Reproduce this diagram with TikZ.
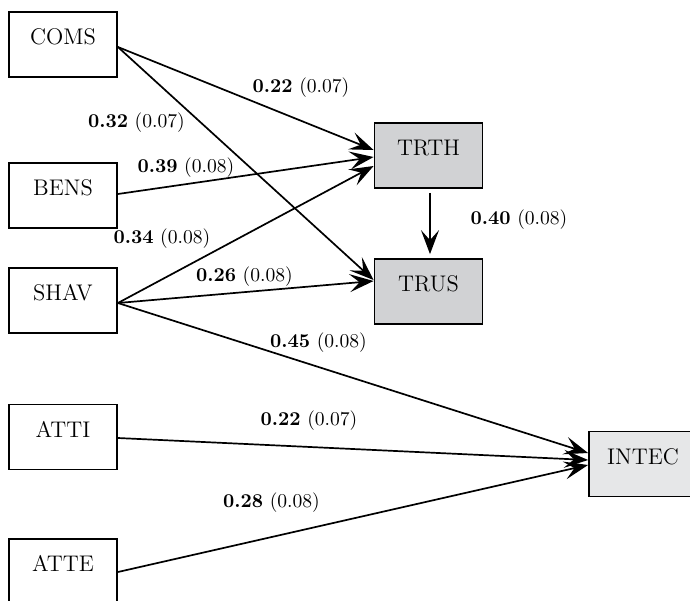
\documentclass[tikz,border=0pt]{standalone}
\usepackage{fontspec}
\usepackage{tikz}
\usetikzlibrary{arrows.meta,calc}
\definecolor{endogray}{RGB}{209,210,212}
\definecolor{outgray}{RGB}{230,231,232}
\newcommand{\est}[2]{\textbf{#1} (#2)}

\begin{document}
\begin{tikzpicture}[x=0.5pt,y=-0.5pt,
    var/.style={draw,line width=0.9pt,minimum width=54pt,minimum height=32.5pt,
      inner sep=0pt,text height=8pt,text depth=8pt,font=\fontsize{11.3}{13}\selectfont},
    path/.style={line width=0.85pt,-{Stealth[length=12pt,width=9pt,inset=5pt]}},
    coef/.style={font=\fontsize{9.8}{12}\selectfont,inner sep=0pt}]
  \clip (0,0) rectangle (690,600);
  % exogenous variables
  \foreach \n/\t/\y in {
    coms/COMS/44.5,
    bens/BENS/195.5,
    shav/SHAV/300.5,
    atti/ATTI/437,
    atte/ATTE/571.5}{
    \node[var] (\n) at (63,\y) {\t};
  }
  % mediators and outcome
  \foreach \n/\t/\x/\y/\c in {
    trth/TRTH/428.5/155.5/endogray,
    trus/TRUS/428.5/291.5/endogray,
    intec/INTEC/643/464/outgray}{
    \node[var,fill=\c] (\n) at (\x,\y) {\t};
  }
  % paths
  \draw[path] ($(coms.east)+(0,2.5)$) -- ($(trth.west)+(0,-5.5)$);
  \draw[path] ($(bens.east)+(0,-1.5)$) -- ($(trth.west)+(0,1.5)$);
  \draw[path] ($(shav.east)+(0,2.5)$) -- ($(trth.west)+(0,10.5)$);
  \draw[path] ($(coms.east)+(0,2.5)$) -- ($(trus.west)+(0,-11.5)$);
  \draw[path] ($(shav.east)+(0,2.5)$) -- ($(trus.west)+(0,-10.5)$);
  \draw[path] ($(trth.south)+(1.5,4)$) -- ($(trus.north)+(1.5,-4)$);
  \draw[path] ($(shav.east)+(0,2.5)$) -- ($(intec.west)+(0,-11)$);
  \draw[path] ($(atti.east)+(0,1)$) -- ($(intec.west)+(0,-4)$);
  \draw[path] ($(atte.east)+(0,0.5)$) -- ($(intec.west)+(0,1)$);
  % estimates
  \node[coef] (c1) at (301,88) {\est{0.22}{0.07}};
  \node[coef] (c2) at (136.5,123) {\est{0.32}{0.07}};
  \node[coef] (c3) at (186,168) {\est{0.39}{0.08}};
  \node[coef] (c4) at (162,239) {\est{0.34}{0.08}};
  \node[coef] (c5) at (244.5,277) {\est{0.26}{0.08}};
  \node[coef] (c6) at (318.5,343) {\est{0.45}{0.08}};
  \node[coef] (c7) at (519,220) {\est{0.40}{0.08}};
  \node[coef] (c8) at (309,421) {\est{0.22}{0.07}};
  \node[coef] (c9) at (271.5,503) {\est{0.28}{0.08}};
\end{tikzpicture}
\end{document}
